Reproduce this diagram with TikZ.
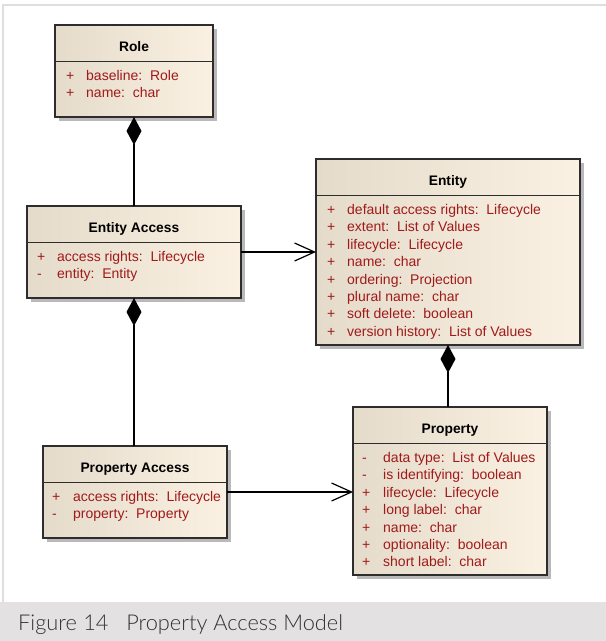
\documentclass[tikz,border=0pt]{standalone}
\usepackage{fontspec}
\setmainfont{Liberation Sans}
\newfontfamily\capfont{Lato Light}
\usetikzlibrary{arrows.meta,shadows,calc}
\definecolor{attrred}{RGB}{160,26,26}
\definecolor{boxleft}{RGB}{228,219,203}
\definecolor{boxright}{RGB}{251,241,226}
\definecolor{boxline}{RGB}{45,45,45}
\definecolor{shadowgray}{RGB}{185,185,185}
\definecolor{framegray}{RGB}{222,222,222}
\definecolor{captionbg}{RGB}{227,225,225}
\begin{document}
\begin{tikzpicture}[x=1pt,y=-1pt,
  classbox/.style={draw=boxline, line width=1.2pt, inner sep=0pt, outer sep=0pt,
    left color=boxleft, middle color=boxright, right color=boxright,
    drop shadow={shadow xshift=4pt, shadow yshift=-4pt, fill=shadowgray, opacity=1}},
  sepline/.style={draw=boxline, line width=1.2pt},
  hdr/.style={inner sep=0pt, font=\fontsize{13.8}{15}\selectfont\bfseries, text=black},
  attrs/.style={inner sep=0pt, font=\fontsize{14}{17.4}\selectfont, text=attrred},
  comp/.style={line width=1.2pt, {Diamond[length=28pt,width=15pt]}-},
  assoc/.style={line width=1.2pt, -{Straight Barb[length=20pt,width=18pt]}}]
\useasboundingbox (0,0) rectangle (606,641);
\fill[white] (0,0) rectangle (606,641);
% page frame and caption band
\draw[framegray, line width=1.5pt] (3,602) -- (3,5) -- (606,5);
\fill[captionbg] (0,602) rectangle (606,641);
\node[inner sep=0pt, anchor=base west, text=black!80, font=\capfont\fontsize{21.8}{28}\selectfont] (caption) at (18,630)
  {\makebox[65pt][l]{Figure}\makebox[43pt][l]{14}Property Access Model};

% class boxes
\node[classbox, minimum width=158pt, minimum height=92pt] (role) at (134,71) {};
\node[classbox, minimum width=214pt, minimum height=92pt] (ea) at (134,252) {};
\node[classbox, minimum width=264pt, minimum height=186pt] (entity) at (448,252) {};
\node[classbox, minimum width=184pt, minimum height=92pt] (pa) at (135,492) {};
\node[classbox, minimum width=194pt, minimum height=168pt] (prop) at (450,491) {};

% compartment separators
\foreach \c in {role,ea,entity,pa,prop}
  \draw[sepline] ($(\c.north west)+(0,36.5)$) -- ($(\c.north east)+(0,36.5)$);

% titles
\node[hdr, anchor=base] (roleT) at ($(role.north)+(0,26)$) {Role};
\node[hdr, anchor=base] (eaT) at ($(ea.north)+(0,26)$) {Entity Access};
\node[hdr, anchor=base] (entityT) at ($(entity.north)+(0,26)$) {Entity};
\node[hdr, anchor=base] (paT) at ($(pa.north)+(0,26)$) {Property Access};
\node[hdr, anchor=base] (propT) at ($(prop.north)+(0,26)$) {Property};

% attributes
\node[attrs, anchor=base west] (roleA) at ($(role.north west)+(11,55.5)$)
  {\begin{tabular}[t]{@{}p{20pt}@{}l@{}}
   + & baseline:\ \ Role\\
   + & name:\ \ char
  \end{tabular}};
\node[attrs, anchor=base west] (eaA) at ($(ea.north west)+(10,55.5)$)
  {\begin{tabular}[t]{@{}p{20pt}@{}l@{}}
   + & access rights:\ \ Lifecycle\\
   - & entity:\ \ Entity
  \end{tabular}};
\node[attrs, anchor=base west] (entityA) at ($(entity.north west)+(11,55.5)$)
  {\begin{tabular}[t]{@{}p{20pt}@{}l@{}}
   + & default access rights:\ \ Lifecycle\\
   + & extent:\ \ List of Values\\
   + & lifecycle:\ \ Lifecycle\\
   + & name:\ \ char\\
   + & ordering:\ \ Projection\\
   + & plural name:\ \ char\\
   + & soft delete:\ \ boolean\\
   + & version history:\ \ List of Values
  \end{tabular}};
\node[attrs, anchor=base west] (paA) at ($(pa.north west)+(9,55.5)$)
  {\begin{tabular}[t]{@{}p{21pt}@{}l@{}}
   + & access rights:\ \ Lifecycle\\
   - & property:\ \ Property
  \end{tabular}};
\node[attrs, anchor=base west] (propA) at ($(prop.north west)+(9,55.5)$)
  {\begin{tabular}[t]{@{}p{21pt}@{}l@{}}
   - & data type:\ \ List of Values\\
   - & is identifying:\ \ boolean\\
   + & lifecycle:\ \ Lifecycle\\
   + & long label:\ \ char\\
   + & name:\ \ char\\
   + & optionality:\ \ boolean\\
   + & short label:\ \ char
  \end{tabular}};

% relationships
\draw[comp] (role.south) -- (role.south |- ea.north);
\draw[comp] (ea.south) -- (ea.south |- pa.north);
\draw[comp] (entity.south) -- (entity.south |- prop.north);
\draw[assoc] (ea.east) -- (entity.west);
\draw[assoc] (pa.east) -- (pa.east -| prop.west);
\end{tikzpicture}
\end{document}
